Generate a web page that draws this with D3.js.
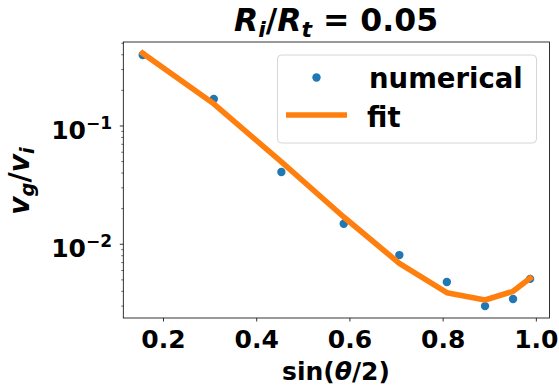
<!DOCTYPE html>
<html>
<head>
<meta charset="utf-8">
<script src="https://cdn.jsdelivr.net/npm/d3@7"></script>
<style>
  html, body { margin: 0; padding: 0; background: #fff; }
  svg { display: block; font-family: "DejaVu Sans", sans-serif; font-weight: bold; }
</style>
</head>
<body>
<svg id="chart" width="559" height="390"></svg>
<script>
// sin(theta/2) sample positions
const xValues = [0.1564, 0.3090, 0.4540, 0.5878, 0.7071, 0.8090, 0.8910, 0.9511, 0.9877];
// numerical v_g / v_i
const numerical = [0.398, 0.169, 0.0408, 0.0149, 0.0081, 0.0048, 0.0030, 0.00345, 0.0051];
// fitted curve at the same positions
const fit = [0.412, 0.154, 0.0497, 0.0170, 0.0069, 0.0039, 0.00338, 0.0040, 0.00516];
const xTicks = [0.2, 0.4, 0.6, 0.8, 1.0];
const yMajorTicks = [0.01, 0.1];
const yMajorExp = ["\u22122", "\u22121"];
const xDomain = [0.1148, 1.0293];
const yDomain = [0.00238, 0.513];

const svg = d3.select("#chart");
const L = 123.3, R = 549.5, T = 42, B = 318;

const x = d3.scaleLinear().domain(xDomain).range([L, R]);
const y = d3.scaleLog().domain(yDomain).range([B, T]);

// numerical points
svg.append("g").selectAll("circle")
  .data(xValues.map((v, i) => [v, numerical[i]]))
  .join("circle")
  .attr("cx", d => x(d[0]))
  .attr("cy", d => y(d[1]))
  .attr("r", 4.2)
  .attr("fill", "#1f77b4");

// fit line
const line = d3.line().x(d => x(d[0])).y(d => y(d[1]));
svg.append("path")
  .datum(xValues.map((v, i) => [v, fit[i]]))
  .attr("d", line)
  .attr("fill", "none")
  .attr("stroke", "#ff7f0e")
  .attr("stroke-width", 5.6)
  .attr("stroke-linejoin", "round")
  .attr("stroke-linecap", "square");

// frame
svg.append("rect")
  .attr("x", L).attr("y", T).attr("width", R - L).attr("height", B - T)
  .attr("fill", "none").attr("stroke", "#000").attr("stroke-width", 0.8);

// x axis
const xAxis = d3.axisBottom(x).tickValues(xTicks).tickSize(3.5).tickPadding(3.5)
  .tickFormat(d3.format(".1f"));
const gx = svg.append("g").attr("transform", `translate(0,${B})`).call(xAxis);
gx.select(".domain").remove();
gx.selectAll(".tick line").attr("stroke", "#000").attr("stroke-width", 0.8);
gx.selectAll(".tick text")
  .attr("font-family", "DejaVu Sans").attr("font-weight", "bold")
  .attr("font-size", 25).attr("fill", "#000")
  .attr("dy", null).attr("y", 30);

// y axis: minor ticks
const minor = [];
for (let e = -3; e <= 0; e++) {
  for (let m = 2; m <= 9; m++) {
    const v = m * Math.pow(10, e);
    if (v >= yDomain[0] && v <= yDomain[1]) minor.push(v);
  }
}
svg.append("g").selectAll("line")
  .data(minor).join("line")
  .attr("x1", L - 2).attr("x2", L)
  .attr("y1", d => y(d)).attr("y2", d => y(d))
  .attr("stroke", "#000").attr("stroke-width", 0.6);

// y axis: major ticks with power-of-ten labels
const gy = svg.append("g");
gy.selectAll("line")
  .data(yMajorTicks).join("line")
  .attr("x1", L - 3.5).attr("x2", L)
  .attr("y1", d => y(d)).attr("y2", d => y(d))
  .attr("stroke", "#000").attr("stroke-width", 0.8);
const ylab = gy.selectAll("text")
  .data(yMajorTicks).join("text")
  .attr("x", 112).attr("y", d => y(d) + 13)
  .attr("text-anchor", "end")
  .attr("font-size", 25).attr("fill", "#000");
ylab.append("tspan").text("10");
ylab.append("tspan").attr("font-size", 17).attr("dy", -10).text((d, i) => yMajorExp[i]);

// title
const title = svg.append("text")
  .attr("x", 336).attr("y", 31).attr("text-anchor", "middle")
  .attr("font-size", 31.5).attr("fill", "#000");
title.append("tspan").attr("font-style", "italic").text("R");
title.append("tspan").attr("font-style", "italic").attr("font-size", 22).attr("dy", 6).text("i");
title.append("tspan").attr("dy", -6).text("/");
title.append("tspan").attr("font-style", "italic").text("R");
title.append("tspan").attr("font-style", "italic").attr("font-size", 22).attr("dy", 6).text("t");
title.append("tspan").attr("dy", -6).text(" = 0.05");

// x label
const xl = svg.append("text")
  .attr("x", 336).attr("y", 380).attr("text-anchor", "middle")
  .attr("font-size", 25).attr("fill", "#000");
xl.append("tspan").text("sin(");
xl.append("tspan").attr("font-style", "italic").text("\u03b8");
xl.append("tspan").text("/2)");

// y label
const yl = svg.append("text")
  .attr("transform", "translate(29,181) rotate(-90)")
  .attr("text-anchor", "middle")
  .attr("font-size", 28).attr("fill", "#000").attr("font-style", "italic");
yl.append("tspan").text("v");
yl.append("tspan").attr("font-size", 19.5).attr("dy", 5).text("g");
yl.append("tspan").attr("dy", -5).attr("font-style", "normal").text("/");
yl.append("tspan").text("v");
yl.append("tspan").attr("font-size", 19.5).attr("dy", 5).text("i");

// legend
const lg = svg.append("g");
lg.append("rect")
  .attr("x", 277.5).attr("y", 55).attr("width", 259).attr("height", 88)
  .attr("rx", 4).attr("ry", 4)
  .attr("fill", "#fff").attr("fill-opacity", 0.8)
  .attr("stroke", "#d6d6d6").attr("stroke-width", 1);
lg.append("circle").attr("cx", 316.5).attr("cy", 77.5).attr("r", 4.2).attr("fill", "#1f77b4");
lg.append("line").attr("x1", 286).attr("x2", 347).attr("y1", 115).attr("y2", 115)
  .attr("stroke", "#ff7f0e").attr("stroke-width", 5.6).attr("stroke-linecap", "butt");
lg.append("text").attr("x", 369).attr("y", 88).attr("font-size", 27.5).attr("fill", "#000").text("numerical");
lg.append("text").attr("x", 367).attr("y", 126.5).attr("font-size", 27.5).attr("fill", "#000").text("fit");
</script>
</body>
</html>
